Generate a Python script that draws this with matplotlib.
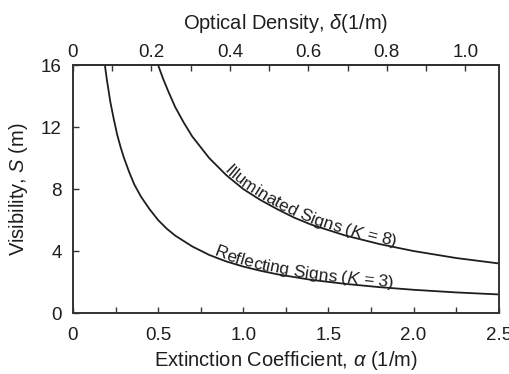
import numpy as np
import matplotlib
matplotlib.use("Agg")
import matplotlib.pyplot as plt
from matplotlib.ticker import MultipleLocator

plt.rcParams['font.family'] = ['Liberation Sans', 'DejaVu Sans']
plt.rcParams['mathtext.fontset'] = 'custom'
plt.rcParams['mathtext.it'] = 'Liberation Sans:italic'
plt.rcParams['mathtext.rm'] = 'Liberation Sans'

# values (visibility S in m vs extinction coefficient alpha in 1/m)
refl_alpha = [0.18, 0.19, 0.2, 0.22, 0.24, 0.26, 0.28, 0.3, 0.33, 0.36, 0.4, 0.45, 0.5, 0.55,
              0.6, 0.7, 0.8, 0.9, 1.0, 1.1, 1.2, 1.4, 1.6, 1.8, 2.0, 2.25, 2.5]
refl_S = [16.7, 15.8, 15.0, 13.6, 12.5, 11.5, 10.7, 10.0, 9.1, 8.3, 7.5, 6.7, 6.0, 5.45,
          5.0, 4.3, 3.75, 3.33, 3.0, 2.73, 2.5, 2.14, 1.88, 1.67, 1.5, 1.33, 1.2]

illum_alpha = [0.48, 0.5, 0.53, 0.56, 0.6, 0.65, 0.7, 0.75, 0.8, 0.9, 1.0, 1.1, 1.2, 1.3,
               1.4, 1.6, 1.8, 2.0, 2.25, 2.5]
illum_S = [16.7, 16.0, 15.1, 14.3, 13.3, 12.3, 11.4, 10.7, 10.0, 8.9, 8.0, 7.3, 6.7, 6.15,
           5.7, 5.0, 4.45, 4.0, 3.55, 3.2]

x_ticks = [0, 0.5, 1.0, 1.5, 2.0, 2.5]
x_ticklabels = ['0', '0.5', '1.0', '1.5', '2.0', '2.5']
y_ticks = [0, 4, 8, 12, 16]
top_ticks = [0, 0.2, 0.4, 0.6, 0.8, 1.0]
top_ticklabels = ['0', '0.2', '0.4', '0.6', '0.8', '1.0']

ink = '#1e1e1e'

fig = plt.figure(figsize=(5.10, 3.74), dpi=100)
ax = fig.add_axes([0.143, 0.163, 0.835, 0.663])

ax.plot(refl_alpha, refl_S, color=ink, lw=1.3)
ax.plot(illum_alpha, illum_S, color=ink, lw=1.3)

ax.set_xlim(0, 2.5)
ax.set_ylim(0, 16)
ax.set_xticks(x_ticks)
ax.set_xticklabels(x_ticklabels)
ax.xaxis.set_minor_locator(MultipleLocator(0.25))
ax.set_yticks(y_ticks)

for s in ax.spines.values():
    s.set_linewidth(1.4)
    s.set_color('#333333')

ax.tick_params(which='both', direction='in', length=4, width=1.0, colors='#333333',
               labelsize=13.5, labelcolor=ink, top=False, right=False)
ax.tick_params(axis='x', pad=10)
ax.tick_params(axis='y', pad=8)

ax.set_xlabel(r'Extinction Coefficient, $\alpha$ (1/m)', fontsize=14.5, color=ink, labelpad=4)
ax.set_ylabel(r'Visibility, $S$ (m)', fontsize=14.5, color=ink, labelpad=8)

secax = ax.secondary_xaxis('top', functions=(lambda a: a / 2.303, lambda d: d * 2.303))
secax.set_xticks(top_ticks)
secax.set_xticklabels(top_ticklabels)
secax.xaxis.set_minor_locator(MultipleLocator(0.1))
secax.tick_params(which='both', direction='in', length=4, width=1.0, colors='#333333',
                  labelsize=13.5, labelcolor=ink, pad=3)
secax.spines['top'].set_linewidth(1.4)
secax.set_xlabel(r'Optical Density, $\delta$(1/m)', fontsize=14.5, color=ink, labelpad=11)


def label_along(xs, ys, text, x_start_px, size, offset=1.0, italic_chars=()):
    """write text character by character so it follows the curve"""
    renderer = fig.canvas.get_renderer()
    pts = ax.transData.transform(np.column_stack([xs, ys]))
    seg = np.hypot(np.diff(pts[:, 0]), np.diff(pts[:, 1]))
    arc = np.concatenate([[0], np.cumsum(seg)])
    s0 = np.interp(x_start_px, pts[:, 0], arc)

    def width(txt):
        t = ax.text(0, 0, txt + '|', fontsize=size)
        w = t.get_window_extent(renderer).width
        t.remove()
        return w

    bar = width('')
    for i, ch in enumerate(text):
        if ch == ' ':
            continue
        left = width(text[:i]) - bar
        right = width(text[:i + 1]) - bar
        mid = s0 + (left + right) / 2
        k = min(max(np.searchsorted(arc, mid), 1), len(arc) - 1)
        px = np.interp(mid, arc, pts[:, 0])
        py = np.interp(mid, arc, pts[:, 1])
        dx, dy = pts[k] - pts[k - 1]
        ang = np.degrees(np.arctan2(dy, dx))
        nx, ny = -dy / np.hypot(dx, dy), dx / np.hypot(dx, dy)
        dpos = ax.transData.inverted().transform((px + nx * offset, py + ny * offset))
        style = 'italic' if i in italic_chars else 'normal'
        ax.text(dpos[0], dpos[1], ch, fontsize=size, style=style, color=ink,
                rotation=ang, rotation_mode='anchor', ha='center', va='baseline')


label_along(illum_alpha, illum_S, 'Illuminated Signs (K = 8)', 223, 12.5, italic_chars=(19,))
label_along(refl_alpha, refl_S, 'Reflecting Signs (K = 3)', 213, 12.5, italic_chars=(18,))

fig.savefig('out.png', dpi=100)
